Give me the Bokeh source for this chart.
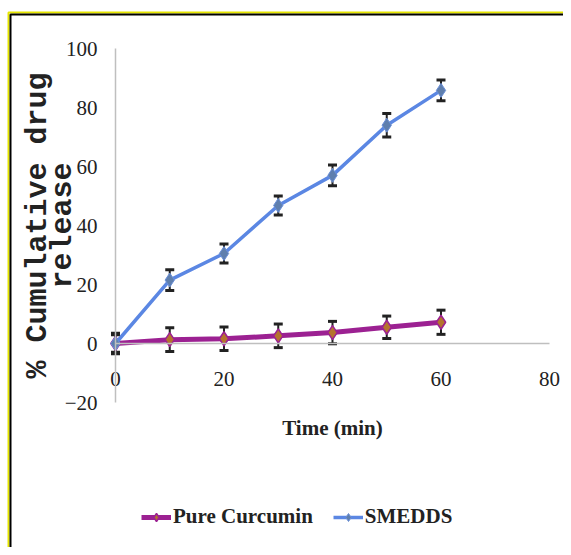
from bokeh.plotting import figure
from bokeh.models import (ColumnDataSource, Whisker, TeeHead, Legend, LegendItem, FixedTicker,
                          BoxAnnotation, Node)
from bokeh.embed import file_html
from bokeh.resources import INLINE

# data
time_min = [0, 10, 20, 30, 40, 50, 60]
pure_curcumin = [0, 1.3, 1.6, 2.6, 3.7, 5.5, 7.2]
pure_err = [3.5, 4.0, 4.0, 4.0, 3.8, 3.8, 4.1]
smedds = [0, 21.5, 30.5, 46.8, 57.0, 74.0, 85.8]
smedds_err = [3.0, 3.5, 3.2, 3.2, 3.5, 4.0, 3.5]
x_ticks = [0, 20, 40, 60, 80]
y_ticks = [-20, 0, 20, 40, 60, 80, 100]

src_p = ColumnDataSource(dict(x=time_min, y=pure_curcumin,
                              lo=[v - e for v, e in zip(pure_curcumin, pure_err)],
                              hi=[v + e for v, e in zip(pure_curcumin, pure_err)]))
src_s = ColumnDataSource(dict(x=time_min, y=smedds,
                              lo=[v - e for v, e in zip(smedds, smedds_err)],
                              hi=[v + e for v, e in zip(smedds, smedds_err)]))

# the plotting frame covers the whole canvas; axes sit at x=0 / y=0 inside it
W, H = 563, 547
X0_PX, XPU = 115, 5.425      # canvas px of x=0, px per x unit
Y100_PX, YPU = 48, 2.95      # canvas px of y=100, px per y unit
x_lo = -X0_PX / XPU
x_hi = (W - X0_PX) / XPU
y_hi = 100 + Y100_PX / YPU
y_lo = 100 - (H - Y100_PX) / YPU

p = figure(width=W, height=H, x_range=(x_lo, x_hi), y_range=(y_lo, y_hi),
           output_backend="svg", toolbar_location=None,
           min_border_left=0, min_border_right=0, min_border_top=0, min_border_bottom=0)
p.outline_line_color = None
p.grid.visible = False
p.background_fill_color = "white"
p.border_fill_color = "white"

# chart-area border (only left and top edges fall inside the window)
for l_off, t_off, col in ((8, 12, "#e6e600"), (10, 14, "#000000")):
    p.add_layout(BoxAnnotation(left=Node(target="canvas", symbol="left", offset=l_off),
                               top=Node(target="canvas", symbol="top", offset=t_off),
                               right=Node(target="canvas", symbol="right", offset=40),
                               bottom=Node(target="canvas", symbol="bottom", offset=40),
                               fill_alpha=0, line_color=col, line_alpha=1, line_width=2))

ax = p.xaxis[0]
ax.fixed_location = 0
ax.bounds = (0, 80)
ax.ticker = FixedTicker(ticks=x_ticks)
ax.axis_line_color = "#BFBFBF"
ax.axis_line_width = 1.5
ax.major_tick_line_color = None
ax.minor_tick_line_color = None
ax.major_label_standoff = 22
ax.major_label_text_font = "Liberation Serif"
ax.major_label_text_font_size = "21px"
ax.major_label_text_color = "#222222"
ax.axis_label = "Time (min)"
ax.axis_label_text_font = "Liberation Serif"
ax.axis_label_text_font_style = "bold"
ax.axis_label_text_font_size = "21px"
ax.axis_label_text_color = "#222222"
ax.axis_label_standoff = 27

ay = p.yaxis[0]
ay.fixed_location = 0
ay.bounds = (-20, 100)
ay.ticker = FixedTicker(ticks=y_ticks)
ay.axis_line_color = "#BFBFBF"
ay.axis_line_width = 1.5
ay.major_tick_line_color = None
ay.minor_tick_line_color = None
ay.major_label_standoff = 12
ay.major_label_text_font = "Liberation Serif"
ay.major_label_text_font_size = "21px"
ay.major_label_text_color = "#222222"
ay.axis_label = "% Cumulative drug\nrelease"
ay.axis_label_text_font = "Liberation Mono"
ay.axis_label_text_font_style = "bold"
ay.axis_label_text_font_size = "30px"
ay.axis_label_text_line_height = 0.72
ay.axis_label_text_color = "#222222"
ay.axis_label_standoff = -18

# error bars
for src in (src_p, src_s):
    w = Whisker(source=src, base="x", lower="lo", upper="hi", line_color="#222222", line_width=2,
                upper_head=TeeHead(size=9, line_color="#222222", line_width=3),
                lower_head=TeeHead(size=9, line_color="#222222", line_width=3))
    p.add_layout(w)

# series
l_p = p.line("x", "y", source=src_p, line_color="#9C2192", line_width=5)
m_p = p.scatter("x", "y", source=src_p, marker="diamond", size=14, fill_color="#B5732E",
                line_color="#9C2192", line_width=1.5)
l_s = p.line("x", "y", source=src_s, line_color="#5B87E3", line_width=3.5)
m_s = p.scatter("x", "y", source=src_s, marker="diamond", size=14, fill_color="#5F7FAE",
                line_color="#6A8FD8", line_width=1)

legend = Legend(items=[LegendItem(label="Pure Curcumin", renderers=[l_p, m_p]),
                       LegendItem(label="SMEDDS", renderers=[l_s, m_s])],
                orientation="horizontal", location=(141, 18),
                label_text_font="Liberation Serif", label_text_font_style="bold",
                label_text_font_size="21px", label_text_color="#222222",
                border_line_color=None, background_fill_alpha=0,
                glyph_width=30, spacing=20, label_standoff=2)
p.add_layout(legend, "center")

open("out.html", "w").write(file_html(p, INLINE))
